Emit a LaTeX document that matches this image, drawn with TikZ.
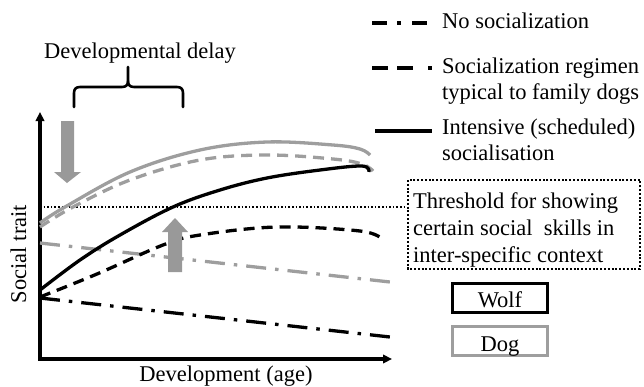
\documentclass[tikz,border=0pt]{standalone}
\usepackage{fontspec}
\setmainfont{Liberation Serif}
\usetikzlibrary{arrows.meta}
\definecolor{lightg}{HTML}{9E9E9E}
\definecolor{arrowg}{HTML}{999999}
\begin{document}
\begin{tikzpicture}[x=1pt,y=-1pt,
  txt/.style={font=\fontsize{22.5}{27}\selectfont, inner sep=0pt},
  curve/.style={line width=3.3pt},
  dashpat/.style={dash pattern=on 11pt off 7pt},
  dotdashpat/.style={dash pattern=on 20pt off 9pt on 3.5pt off 9pt},
  bigarrow/.style={fill=arrowg, draw=none},
  axis/.style={line width=3.5pt, {Triangle[length=9pt,width=8.5pt]}-{Triangle[length=9pt,width=8.5pt]}},
  bracestyle/.style={line width=2.6pt, line cap=round},
  thresh/.style={line width=1.6pt, dash pattern=on 1.6pt off 2pt},
]
\useasboundingbox (0,0) rectangle (644,386);

% axes
\coordinate (ytop) at (40,112);
\coordinate (orig) at (40,359);
\coordinate (xend) at (392,359);
\draw[axis] (ytop) -- (orig) -- (xend);

% threshold line and box
\coordinate (thstart) at (40,207);
\coordinate (thend) at (407,207);
\draw[thresh] (thstart) -- (thend);
\draw[line width=2.2pt, dash pattern=on 2pt off 1.8pt] (408,180) rectangle (640,269);
\node[txt, anchor=base west] (th1) at (413,208) {Threshold for showing};
\node[txt, anchor=base west] (th2) at (413,235) {certain social~ skills in};
\node[txt, anchor=base west] (th3) at (413,262) {inter-specific context};

% Dog curves (gray)
\draw[curve, lightg] plot[smooth, tension=0.6] coordinates {(40,223) (65,207) (130,172) (200,150) (267,142) (333,145) (360,149) (370,155)};
\draw[curve, lightg, dashpat] plot[smooth, tension=0.6] coordinates {(40,227) (73,207) (130,180) (200,160) (267,155) (333,159) (362,164) (373,171)};
\draw[curve, lightg, dotdashpat] (40,243) -- (390,282);

% Wolf curves (black)
\draw[curve] plot[smooth, tension=0.6] coordinates {(40,290) (80,260) (120,235) (173,207) (220,190) (267,178) (320,170) (362,166) (369,172)};
\draw[curve, dashpat] plot[smooth, tension=0.6] coordinates {(40,297) (97,274) (163,245) (200,235) (277,227) (360,231) (382,239)};
\draw[curve, dotdashpat] (40,298) -- (390,337);

% big gray arrows
\fill[bigarrow] (61,121) -- (74,121) -- (74,172) -- (81,172) -- (67,183) -- (54,172) -- (61,172) -- cycle;
\fill[bigarrow] (168,272) -- (182,272) -- (182,232) -- (188,232) -- (175,218) -- (162,232) -- (168,232) -- cycle;

% brace and label
\draw[bracestyle] (74,107) -- (74,93) .. controls (74,89) and (76,87) .. (80,87) -- (122,87) .. controls (126,87) and (128,85) .. (128,81) -- (128,67);
\draw[bracestyle] (128,81) .. controls (128,85) and (130,87) .. (134,87) -- (177,87) .. controls (181,87) and (183,89) .. (183,93) -- (183,107);
\node[txt, anchor=base] (delay) at (140,58) {Developmental delay};

% axis labels
\node[txt, anchor=base, rotate=90] (ylab) at (26,254) {Social trait};
\node[txt, anchor=base] (xlab) at (226,381) {Development (age)};

% legend
\draw[line width=3.5pt, dash pattern=on 15pt off 10pt on 4pt off 11pt] (372,23) -- (432,23);
\draw[line width=3.5pt, dash pattern=on 16pt off 9pt on 16pt off 15pt on 4pt off 10pt] (372,68) -- (432,68);
\draw[line width=3.5pt] (375,131) -- (432,131);
\node[txt, anchor=base west] (leg1) at (442,28) {No socialization};
\node[txt, anchor=base west] (leg2) at (442,73) {Socialization regimen};
\node[txt, anchor=base west] (leg2b) at (442,99) {typical to family dogs};
\node[txt, anchor=base west] (leg3) at (442,134) {Intensive (scheduled)};
\node[txt, anchor=base west] (leg3b) at (442,160) {socialisation};

% species boxes
\draw[line width=3pt] (452.5,283.5) rectangle (547.5,312.5);
\node[txt, anchor=base] (wolf) at (500,307) {Wolf};
\draw[line width=3pt, lightg] (452.5,326.5) rectangle (547.5,355.5);
\node[txt, anchor=base] (dog) at (500,351) {Dog};
\end{tikzpicture}
\end{document}
